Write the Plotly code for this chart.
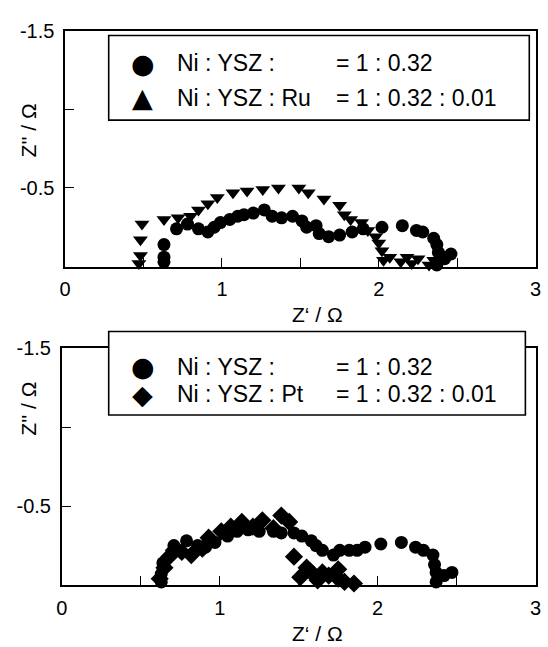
import plotly.graph_objects as go

W, H = 548, 647

# ---- impedance data (Z' in ohm, Z'' in ohm) ----
# upper panel: Ni:YSZ reference and Ru-doped anode
ref1_zr = [0.63, 0.63, 0.63, 0.71, 0.78, 0.85, 0.91, 0.95, 0.99, 1.05, 1.10, 1.14,
           1.20, 1.27, 1.32, 1.38, 1.45, 1.51, 1.54, 1.60, 1.62, 1.68, 1.75, 1.83,
           1.90, 2.02, 2.15, 2.24, 2.28, 2.35, 2.37, 2.38, 2.41, 2.46, 2.42, 2.37]
ref1_zi = [-0.03, -0.06, -0.14, -0.24, -0.27, -0.24, -0.22, -0.25, -0.28, -0.30, -0.32, -0.33,
           -0.34, -0.36, -0.32, -0.31, -0.32, -0.29, -0.25, -0.26, -0.21, -0.19, -0.20, -0.22,
           -0.24, -0.25, -0.26, -0.23, -0.22, -0.18, -0.14, -0.09, -0.06, -0.08, -0.05, -0.01]

ru_zr = [0.47, 0.48, 0.48, 0.49, 0.63, 0.72, 0.80, 0.85, 0.91, 0.97, 1.07, 1.16,
         1.26, 1.36, 1.49, 1.55, 1.65, 1.75, 1.78, 1.82, 1.89, 1.93, 1.98, 2.00,
         2.02, 2.03, 2.07, 2.14, 2.18, 2.21, 2.25, 2.29, 2.32, 2.35]
ru_zi = [-0.02, -0.07, -0.17, -0.27, -0.30, -0.31, -0.32, -0.36, -0.40, -0.44, -0.47, -0.48,
         -0.49, -0.50, -0.50, -0.47, -0.43, -0.39, -0.33, -0.30, -0.28, -0.23, -0.19, -0.15,
         -0.10, -0.04, -0.06, -0.03, -0.06, -0.02, -0.05, 0.01, -0.01, -0.04]

# lower panel: Ni:YSZ reference and Pt-doped anode
ref2_zr = [0.63, 0.63, 0.64, 0.71, 0.79, 0.86, 0.91, 0.97, 1.05, 1.11, 1.18, 1.25,
           1.34, 1.39, 1.47, 1.52, 1.58, 1.61, 1.65, 1.72, 1.76, 1.82, 1.87, 1.92,
           2.02, 2.15, 2.24, 2.29, 2.35, 2.36, 2.37, 2.37, 2.42, 2.47]
ref2_zi = [-0.02, -0.07, -0.14, -0.25, -0.28, -0.25, -0.24, -0.27, -0.31, -0.34, -0.35, -0.34,
           -0.34, -0.33, -0.33, -0.31, -0.28, -0.25, -0.22, -0.19, -0.22, -0.22, -0.22, -0.24,
           -0.26, -0.27, -0.24, -0.22, -0.19, -0.13, -0.08, -0.02, -0.06, -0.08]

pt_zr = [0.62, 0.65, 0.68, 0.71, 0.76, 0.82, 0.89, 0.93, 1.01, 1.07, 1.14, 1.21,
         1.27, 1.34, 1.39, 1.44, 1.47, 1.51, 1.55, 1.57, 1.59, 1.62, 1.65, 1.69,
         1.75, 1.75, 1.79, 1.85]
pt_zi = [-0.04, -0.11, -0.18, -0.22, -0.21, -0.19, -0.23, -0.30, -0.34, -0.37, -0.40, -0.37,
         -0.41, -0.36, -0.44, -0.40, -0.18, -0.05, -0.11, -0.09, -0.07, -0.03, -0.08, -0.06,
         -0.10, -0.04, -0.02, -0.01]

# axis ticks
x_ticks = [0, 0.5, 1, 1.5, 2, 2.5, 3]
x_labels = ["0", "", "1", "", "2", "", "3"]
y_ticks = [0, -0.5, -1.0, -1.5]
y_labels = ["", "-0.5", "", "-1.5"]

FONT = "Liberation Sans, Arial, sans-serif"


def px(x):
    return x / W


def py(y):
    return 1 - y / H


fig = go.Figure()

mk = dict(color="black", line=dict(width=0))
fig.add_trace(go.Scatter(x=ref1_zr, y=ref1_zi, mode="markers", xaxis="x", yaxis="y",
                         marker=dict(symbol="circle", size=13, **mk), cliponaxis=False))
fig.add_trace(go.Scatter(x=ru_zr, y=ru_zi, mode="markers", xaxis="x", yaxis="y",
                         marker=dict(symbol="triangle-down", size=13, **mk), cliponaxis=False))
fig.add_trace(go.Scatter(x=ref2_zr, y=ref2_zi, mode="markers", xaxis="x2", yaxis="y2",
                         marker=dict(symbol="circle", size=13, **mk), cliponaxis=False))
fig.add_trace(go.Scatter(x=pt_zr, y=pt_zi, mode="markers", xaxis="x2", yaxis="y2",
                         marker=dict(symbol="diamond", size=14, **mk), cliponaxis=False))

xax = dict(range=[0, 3], tickvals=x_ticks, ticktext=x_labels, ticks="inside", ticklen=9,
           tickwidth=1.3, tickcolor="black", showline=True, linecolor="black", linewidth=1.6,
           mirror=True, showgrid=False, zeroline=False, ticklabelstandoff=4,
           tickfont=dict(family=FONT, size=20, color="black"))
yax = dict(range=[0, -1.5], tickvals=y_ticks, ticktext=y_labels, ticks="inside", ticklen=9,
           tickwidth=1.3, tickcolor="black", showline=True, linecolor="black", linewidth=1.6,
           mirror=True, showgrid=False, zeroline=False, ticklabelstandoff=5,
           tickfont=dict(family=FONT, size=20, color="black"))

fig.update_layout(
    width=W, height=H, margin=dict(l=0, r=0, t=0, b=0),
    paper_bgcolor="white", plot_bgcolor="white", showlegend=False,
    xaxis=dict(domain=[px(60.5), px(541.5)], anchor="y", **xax),
    yaxis=dict(domain=[py(260), py(20)], anchor="x", **yax),
    xaxis2=dict(domain=[px(57), px(541.5)], anchor="y2", **xax),
    yaxis2=dict(domain=[py(584), py(343)], anchor="x2", **yax),
)

# legend boxes
shapes = [
    dict(type="rect", xref="paper", yref="paper", x0=px(105), x1=px(535), y0=py(111), y1=py(25),
         line=dict(color="black", width=1.6), fillcolor="white", layer="above"),
    dict(type="rect", xref="paper", yref="paper", x0=px(105), x1=px(531), y0=py(411), y1=py(326),
         line=dict(color="black", width=1.6), fillcolor="white", layer="above"),
]
fig.update_layout(shapes=shapes)

ann = []


def text(x, y, s, size=23, xanchor="left", angle=0):
    ann.append(dict(x=px(x), y=py(y), xref="paper", yref="paper", text=s, showarrow=False,
                    xanchor=xanchor, yanchor="middle", textangle=angle,
                    font=dict(family=FONT, size=size, color="black")))


# legend contents
legend_rows = [
    (53, "●", "Ni : YSZ :", "= 1 : 0.32"),
    (88, "▲", "Ni : YSZ : Ru", "= 1 : 0.32 : 0.01"),
    (362, "●", "Ni : YSZ :", "= 1 : 0.32"),
    (390, "◆", "Ni : YSZ : Pt", "= 1 : 0.32 : 0.01"),
]
for yy, sym, name, ratio in legend_rows:
    ann.append(dict(x=px(140), y=py(yy), xref="paper", yref="paper", text=sym, showarrow=False,
                    xanchor="center", yanchor="middle",
                    font=dict(family="DejaVu Sans", size=27, color="black")))
    text(173, yy, name)
    text(335, yy, ratio)

# axis titles
text(318, 309, "Z‘ / Ω", size=21, xanchor="center")
text(318, 633, "Z‘ / Ω", size=21, xanchor="center")
text(23, 121, "Z'' / Ω", size=21, xanchor="center", angle=-90)
text(23, 404, "Z'' / Ω", size=21, xanchor="center", angle=-90)

fig.update_layout(annotations=ann)

fig.write_html("out.html")
